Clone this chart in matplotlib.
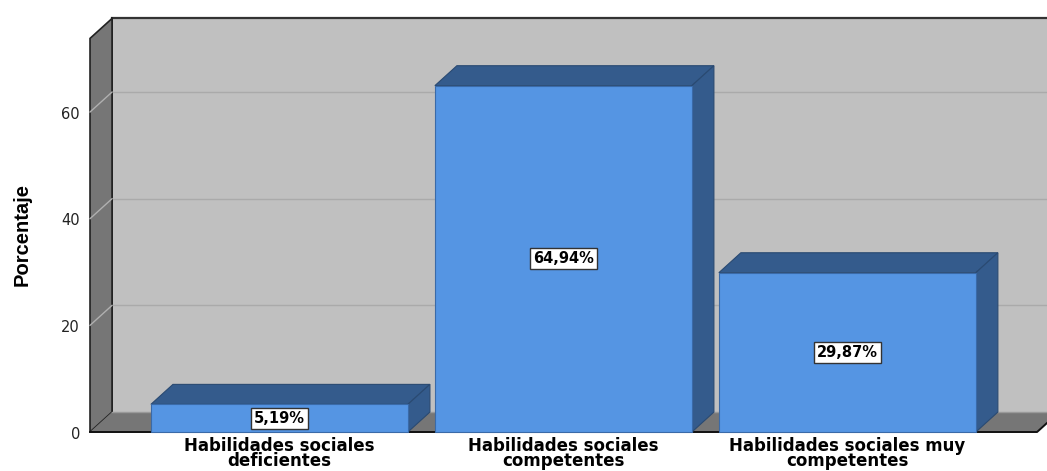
import matplotlib.pyplot as plt
from matplotlib.patches import Polygon, Rectangle

categories = ['Habilidades sociales\ndeficientes',
              'Habilidades sociales\ncompetentes',
              'Habilidades sociales muy\ncompetentes']
porcentajes = [5.19, 64.94, 29.87]
etiquetas = ['5,19%', '64,94%', '29,87%']
yticks = [0, 20, 40, 60]

front_c = '#5595e3'
dark_c = '#345b8c'
wall_c = '#c0c0c0'
side_c = '#767676'

fig = plt.figure(figsize=(10.47, 4.71), dpi=100)
ax = fig.add_axes([0, 0, 1, 1])
ax.set_xlim(-0.984, 2.703)
ax.set_ylim(-7.31, 81.0)
ax.axis('off')

# pseudo 3D geometry (front plane in data units, depth as offset)
x0, x1 = -0.667, 2.668
top = 73.8
dx, dy = 0.0775, 3.74
w = 0.905

# back wall
ax.add_patch(Rectangle((x0 + dx, dy), 5, top, fc=wall_c, ec='none', zorder=1))
ax.plot([x0 + dx, 4], [top + dy, top + dy], color='#333333', lw=1.6, zorder=2)
ax.plot([x0 + dx, x0 + dx], [dy, top + dy], color='#222222', lw=1.4, zorder=2)
# left wall
ax.add_patch(Polygon([(x0, 0), (x0, top), (x0 + dx, top + dy), (x0 + dx, dy)],
                     closed=True, fc=side_c, ec='#222222', lw=1.2, zorder=2))
# floor
ax.add_patch(Polygon([(x0, 0), (x1, 0), (x1 + dx, dy), (x0 + dx, dy)],
                     closed=True, fc=side_c, ec='none', zorder=2))
ax.plot([x0 + dx, 4], [dy, dy], color='#9a9a9a', lw=1.0, zorder=2)
ax.plot([x0, x1, x1 + dx], [0, 0, dy], color='#111111', lw=1.4, zorder=3)

# gridlines + tick labels
for v in yticks:
    if v > 0:
        ax.plot([x0 + dx, 4], [v + dy, v + dy], color='#aaaaaa', lw=1.0, zorder=1.5)
        ax.plot([x0, x0 + dx], [v, v + dy], color='#b0b0b0', lw=1.0, zorder=2.5)
    ax.text(x0 - 0.035, v - 0.4, str(v), ha='right', va='center', fontsize=10.5,
            color='#222222', family='DejaVu Sans')

# bars
for i, (v, lab) in enumerate(zip(porcentajes, etiquetas)):
    l, r = i - w / 2, i + w / 2
    ax.add_patch(Polygon([(l, v), (l + dx, v + dy), (r + dx, v + dy), (r, v)],
                         closed=True, fc=dark_c, ec='#2a4a72', lw=0.8, zorder=4))
    ax.add_patch(Polygon([(r, 0), (r + dx, dy), (r + dx, v + dy), (r, v)],
                         closed=True, fc=dark_c, ec='#2a4a72', lw=0.8, zorder=4))
    ax.add_patch(Rectangle((l, 0), w, v, fc=front_c, ec='#3a6aa8', lw=0.8, zorder=5))
    ax.text(i, v / 2, lab, ha='center', va='center', fontsize=10.5, fontweight='bold',
            family='DejaVu Sans', zorder=6,
            bbox=dict(boxstyle='square,pad=0.2', fc='white', ec='#333333', lw=1.0))
    ax.text(i, -1.0, categories[i], ha='center', va='top', fontsize=12,
            fontweight='bold', family='DejaVu Sans', linespacing=0.78)

ax.text(-0.905, 37, 'Porcentaje', rotation=90, ha='center', va='center', fontsize=14.5,
        fontweight='bold', family='Liberation Sans')

fig.savefig('out.png', dpi=100)
